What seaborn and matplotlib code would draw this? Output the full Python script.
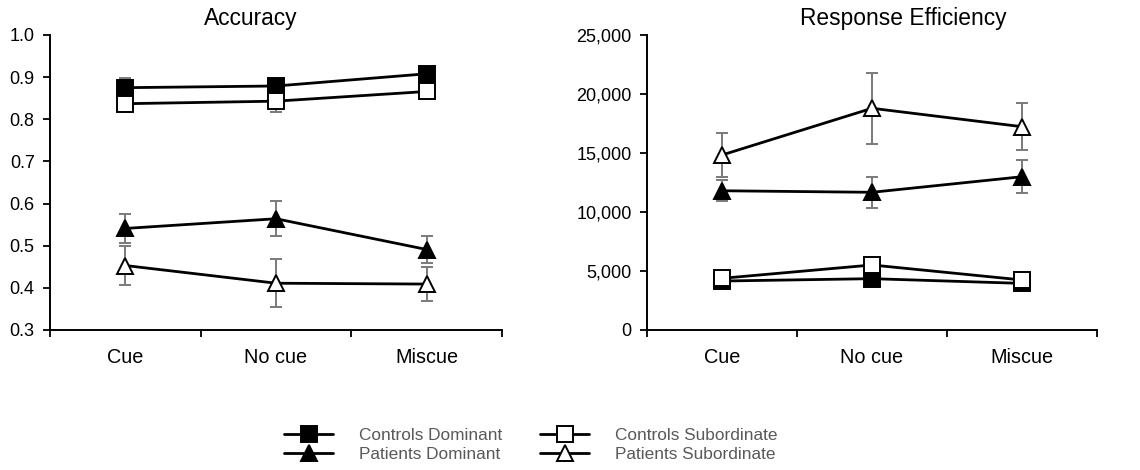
import numpy as np
import pandas as pd
import matplotlib.pyplot as plt
import matplotlib.ticker as mticker
import seaborn as sns

# Data
conditions = ['Cue', 'No cue', 'Miscue']
groups = ['Controls Dominant', 'Patients Dominant', 'Controls Subordinate', 'Patients Subordinate']

acc_controls_dom = [0.875, 0.879, 0.908]
acc_controls_dom_err = [0.022, 0.012, 0.012]
acc_patients_dom = [0.541, 0.564, 0.491]
acc_patients_dom_err = [0.034, 0.041, 0.032]
acc_controls_sub = [0.837, 0.843, 0.866]
acc_controls_sub_err = [0.012, 0.026, 0.012]
acc_patients_sub = [0.453, 0.411, 0.409]
acc_patients_sub_err = [0.046, 0.057, 0.041]

re_controls_dom = [4150, 4350, 3950]
re_controls_dom_err = [250, 300, 250]
re_patients_dom = [11800, 11670, 12990]
re_patients_dom_err = [900, 1320, 1400]
re_controls_sub = [4380, 5510, 4240]
re_controls_sub_err = [250, 300, 250]
re_patients_sub = [14830, 18790, 17230]
re_patients_sub_err = [1850, 3000, 2000]

acc_series = {
    'Controls Dominant': (acc_controls_dom, acc_controls_dom_err),
    'Patients Dominant': (acc_patients_dom, acc_patients_dom_err),
    'Controls Subordinate': (acc_controls_sub, acc_controls_sub_err),
    'Patients Subordinate': (acc_patients_sub, acc_patients_sub_err),
}
re_series = {
    'Controls Dominant': (re_controls_dom, re_controls_dom_err),
    'Patients Dominant': (re_patients_dom, re_patients_dom_err),
    'Controls Subordinate': (re_controls_sub, re_controls_sub_err),
    'Patients Subordinate': (re_patients_sub, re_patients_sub_err),
}

marker_style = {
    'Controls Dominant': ('s', 'black'),
    'Patients Dominant': ('^', 'black'),
    'Controls Subordinate': ('s', 'white'),
    'Patients Subordinate': ('^', 'white'),
}

sns.set_style('ticks')
plt.rcParams['font.family'] = ['Liberation Sans', 'DejaVu Sans']
plt.rcParams['text.color'] = 'black'
plt.rcParams['xtick.color'] = 'black'
plt.rcParams['ytick.color'] = 'black'
plt.rcParams['axes.edgecolor'] = 'black'

fig = plt.figure(figsize=(11.4, 4.7), dpi=100)
ax1 = fig.add_axes([50 / 1140, 140 / 470, 452 / 1140, 295 / 470])
ax2 = fig.add_axes([647 / 1140, 140 / 470, 450 / 1140, 295 / 470])

x_pos = np.arange(len(conditions))


def draw_panel(ax, series):
    for name in groups:
        vals, errs = series[name]
        df = pd.DataFrame({'pos': x_pos, 'value': vals})
        ax.errorbar(x_pos, vals, yerr=errs, fmt='none', ecolor='#7a7a7a',
                    elinewidth=1.4, capsize=4.5, capthick=1.4, zorder=1)
        marker, face = marker_style[name]
        sns.lineplot(data=df, x='pos', y='value', ax=ax, color='black',
                     linewidth=2.0, marker=marker, markersize=11.5,
                     markerfacecolor=face, markeredgecolor='black',
                     markeredgewidth=1.4, label=name, zorder=3)
    if ax.get_legend() is not None:
        ax.get_legend().remove()
    ax.set_xlim(-0.5, 2.5)
    ax.set_xlabel('')
    ax.set_ylabel('')
    ax.set_xticks([-0.5, 0.5, 1.5, 2.5])
    ax.set_xticklabels([])
    ax.set_xticks(x_pos, minor=True)
    ax.set_xticklabels(conditions, minor=True, fontsize=14.3)
    ax.tick_params(axis='x', which='minor', length=0, pad=13)
    ax.tick_params(axis='x', which='major', length=5, width=1.3, direction='out')
    ax.tick_params(axis='y', length=5, width=1.3, direction='out', labelsize=13, pad=6)
    for s in ['left', 'bottom']:
        ax.spines[s].set_linewidth(1.4)
    sns.despine(ax=ax)


draw_panel(ax1, acc_series)
ax1.set_ylim(0.3, 1.0)
ax1.set_yticks(np.arange(0.3, 1.01, 0.1))
ax1.yaxis.set_major_formatter(mticker.StrMethodFormatter('{x:.1f}'))
ax1.set_title('Accuracy', fontsize=16.4, x=0.445, pad=7)

draw_panel(ax2, re_series)
ax2.set_ylim(0, 25000)
ax2.set_yticks(np.arange(0, 25001, 5000))
ax2.yaxis.set_major_formatter(mticker.StrMethodFormatter('{x:,.0f}'))
ax2.set_title('Response Efficiency', fontsize=16.4, x=0.569, pad=7)

handles, labels = ax1.get_legend_handles_labels()
fig.legend(handles, labels, ncol=2, loc='center', bbox_to_anchor=(531 / 1140, 1 - 445 / 470),
           frameon=False, fontsize=12.4, labelcolor='#595959', handlelength=2.85,
           handletextpad=1.5, columnspacing=2.2, labelspacing=0.2)

fig.savefig('out.png', dpi=100)
